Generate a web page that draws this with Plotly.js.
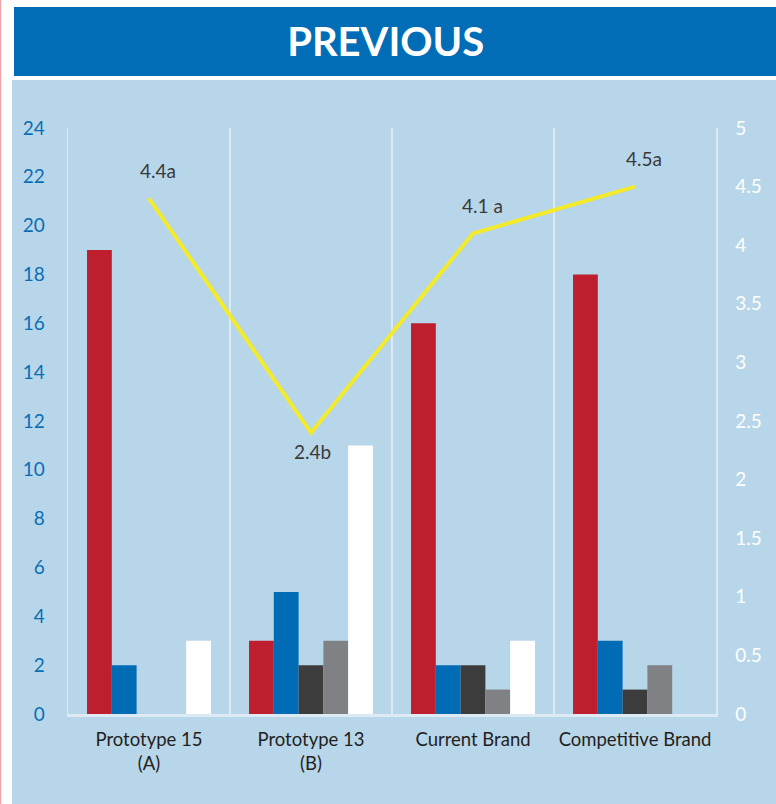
<!DOCTYPE html>
<html>
<head>
<meta charset="utf-8">
<script src="https://cdn.plot.ly/plotly-3.0.1.min.js"></script>
<style>html,body{margin:0;padding:0;background:#fff;}#chart{width:776px;height:804px;}</style>
</head>
<body>
<div id="chart"></div>
<script>
const categories = ["Prototype 15<br>(A)", "Prototype 13<br>(B)", "Current Brand", "Competitive Brand"];
const seriesRed = [19, 3, 16, 18];
const seriesBlue = [2, 5, 2, 3];
const seriesDark = [0, 2, 2, 1];
const seriesGray = [0, 3, 1, 2];
const seriesWhite = [3, 11, 3, 0];
const lineValues = [4.4, 2.4, 4.1, 4.5];
const lineLabels = ["4.4a", "2.4b", "4.1 a", "4.5a"];
const leftTicks = [0, 2, 4, 6, 8, 10, 12, 14, 16, 18, 20, 22, 24];
const rightTicks = [0, 0.5, 1, 1.5, 2, 2.5, 3, 3.5, 4, 4.5, 5];
const rightTickText = ["0", "0.5", "1", "1.5", "2", "2.5", "3", "3.5", "4", "4.5", "5"];

const FONT = "Lato, 'Open Sans', sans-serif";
const barSeries = [
  {name: "Red", y: seriesRed, color: "#BE1E2D"},
  {name: "Blue", y: seriesBlue, color: "#006CB5"},
  {name: "Dark", y: seriesDark, color: "#3C3C3C"},
  {name: "Gray", y: seriesGray, color: "#808184"},
  {name: "White", y: seriesWhite, color: "#FFFFFF"}
];

const traces = barSeries.map(s => ({
  type: "bar", x: categories, y: s.y, name: s.name,
  marker: {color: s.color, line: {width: 0}}, hoverinfo: "y"
}));
traces.push({
  type: "scatter", mode: "lines", x: categories, y: lineValues, yaxis: "y2",
  line: {color: "#F2EA2A", width: 4}, name: "Score", hoverinfo: "y"
});

const annotations = categories.map((c, i) => {
  const below = lineValues[i] < 3;
  return {
    x: c, y: lineValues[i], xref: "x", yref: "y2",
    text: lineLabels[i], showarrow: false,
    xshift: below ? 1 : 9, yshift: below ? -19 : 28,
    font: {family: FONT, size: 19, color: "#3A3A3A"}
  };
});

const pw = 648, ph = 586, L = 68, T = 128;
const px = v => (v - L) / pw;
const py = v => (T + ph - v) / ph;

const layout = {
  width: 776, height: 804,
  margin: {l: 68, r: 60, t: 128, b: 90, pad: 0},
  paper_bgcolor: "#FFFFFF",
  plot_bgcolor: "rgba(0,0,0,0)",
  showlegend: false,
  barmode: "group",
  bargap: 0.235,
  bargroupgap: 0,
  title: {
    text: "<b>PREVIOUS</b>", x: 0.497, xanchor: "center", y: 1 - 42 / 804, yanchor: "middle",
    font: {family: FONT, size: 40, color: "#FFFFFF", weight: 900}
  },
  xaxis: {
    type: "category", tickson: "boundaries",
    showgrid: true, gridcolor: "#DDEAF4", gridwidth: 1.5,
    showline: true, linecolor: "#DDEAF4", linewidth: 2.5,
    ticks: "", ticklabelstandoff: 7,
    tickfont: {family: FONT, size: 18.5, color: "#231F20"},
    fixedrange: true
  },
  yaxis: {
    range: [0, 24], tickvals: leftTicks, ticktext: leftTicks.map(String),
    showgrid: false, zeroline: false,
    showline: true, linecolor: "#DDEAF4", linewidth: 1.5,
    ticks: "outside", ticklen: 18, tickcolor: "rgba(0,0,0,0)",
    tickfont: {family: FONT, size: 19, color: "#0A6EB4"},
    fixedrange: true
  },
  yaxis2: {
    range: [0, 5], overlaying: "y", side: "right",
    tickvals: rightTicks, ticktext: rightTickText,
    showgrid: false, zeroline: false,
    showline: true, linecolor: "#DDEAF4", linewidth: 1.5,
    ticks: "outside", ticklen: 14, tickcolor: "rgba(0,0,0,0)",
    tickfont: {family: FONT, size: 19, color: "#FFFFFF"},
    fixedrange: true
  },
  shapes: [
    {type: "rect", xref: "paper", yref: "paper", layer: "below",
     x0: px(12), x1: px(776), y0: py(804), y1: py(80),
     fillcolor: "#B8D6E9", line: {width: 0}},
    {type: "rect", xref: "paper", yref: "paper", layer: "below",
     x0: px(14), x1: px(776), y0: py(76), y1: py(7),
     fillcolor: "#006DB6", line: {width: 0}},
    {type: "line", xref: "paper", yref: "paper", layer: "below",
     x0: px(0.6), x1: px(0.6), y0: py(804), y1: py(0),
     line: {color: "#F3A5AA", width: 1.2}}
  ],
  annotations: annotations
};

Plotly.newPlot("chart", traces, layout, {displayModeBar: false, staticPlot: true});
</script>
</body>
</html>
